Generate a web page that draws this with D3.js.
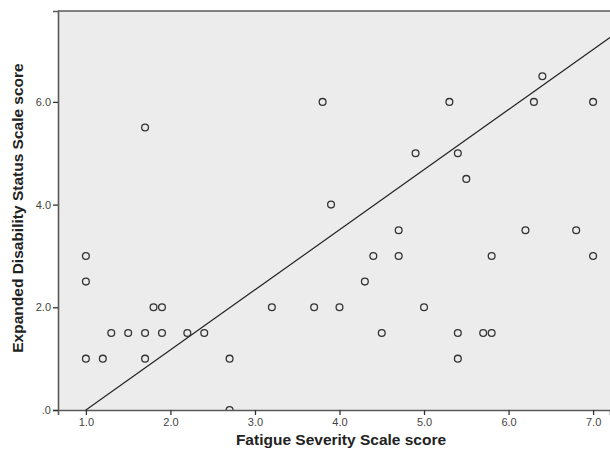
<!DOCTYPE html>
<html>
<head>
<meta charset="utf-8">
<script src="https://cdn.jsdelivr.net/npm/d3@7"></script>
<style>
  body { margin: 0; background: #fff; }
  svg { display: block; }
</style>
</head>
<body>
<div id="chart"></div>
<script>
// fatigue score (x) vs EDSS (y), one entry per patient
var fss = [1.0, 1.0, 1.0, 1.2, 1.3, 1.5, 1.7, 1.7, 1.7, 1.8, 1.9, 1.9, 2.2, 2.4, 2.7, 2.7,
           3.2, 3.7, 3.8, 3.9, 4.0, 4.3, 4.4, 4.5, 4.7, 4.7, 4.9, 5.0, 5.3, 5.4, 5.4, 5.4,
           5.5, 5.7, 5.8, 5.8, 6.2, 6.3, 6.4, 6.8, 7.0, 7.0];
var edss = [3.0, 2.5, 1.0, 1.0, 1.5, 1.5, 1.5, 1.0, 5.5, 2.0, 2.0, 1.5, 1.5, 1.5, 1.0, 0.0,
            2.0, 2.0, 6.0, 4.0, 2.0, 2.5, 3.0, 1.5, 3.5, 3.0, 5.0, 2.0, 6.0, 5.0, 1.5, 1.0,
            4.5, 1.5, 1.5, 3.0, 3.5, 6.0, 6.5, 3.5, 6.0, 3.0];

var xTicks = [1, 2, 3, 4, 5, 6, 7];
var yTicks = [0, 2, 4, 6];

// linear fit line
var fitIntercept = -1.17;
var fitSlope = 1.17;

var W = 610, H = 454;
var margin = {top: 11, right: 0, bottom: 44, left: 58};

var svg = d3.select("#chart").append("svg")
  .attr("width", W)
  .attr("height", H);

var x = d3.scaleLinear().domain([0.67, 7.2]).range([margin.left, W - margin.right]);
var y = d3.scaleLinear().domain([0, 7.77]).range([H - margin.bottom, margin.top]);

// plot background
svg.append("rect")
  .attr("x", margin.left)
  .attr("y", margin.top)
  .attr("width", W - margin.right - margin.left)
  .attr("height", H - margin.bottom - margin.top)
  .attr("fill", "#ececec");

svg.append("clipPath").attr("id", "plotclip")
  .append("rect")
  .attr("x", margin.left)
  .attr("y", margin.top)
  .attr("width", W - margin.right - margin.left)
  .attr("height", H - margin.bottom - margin.top);

var plot = svg.append("g").attr("clip-path", "url(#plotclip)");

// fit line across the whole x range
var xd = x.domain();
plot.append("line")
  .attr("x1", x(xd[0]))
  .attr("y1", y(fitIntercept + fitSlope * xd[0]))
  .attr("x2", x(xd[1]))
  .attr("y2", y(fitIntercept + fitSlope * xd[1]))
  .attr("stroke", "#222")
  .attr("stroke-width", 1.2);

plot.selectAll(".pt")
  .data(fss)
  .enter()
  .append("circle")
  .attr("class", "pt")
  .attr("cx", function(d) { return x(d); })
  .attr("cy", function(d, i) { return y(edss[i]); })
  .attr("r", 3.4)
  .attr("fill", "none")
  .attr("stroke", "#333")
  .attr("stroke-width", 1.3);

// axes
var fmt = function(d) { return d === 0 ? ".0" : d3.format(".1f")(d); };

var xAxis = svg.append("g")
  .attr("transform", "translate(0," + (H - margin.bottom) + ")")
  .call(d3.axisBottom(x).tickValues(xTicks).tickFormat(fmt).tickSize(5).tickPadding(3));

var yAxis = svg.append("g")
  .attr("transform", "translate(" + margin.left + ",0)")
  .call(d3.axisLeft(y).tickValues(yTicks).tickFormat(fmt).tickSize(5).tickPadding(2));

[xAxis, yAxis].forEach(function(a) {
  a.select(".domain").attr("stroke", "#5a5a5a").attr("stroke-width", 1.6);
  a.selectAll(".tick line").attr("stroke", "#333").attr("stroke-width", 1.3);
  a.selectAll(".tick text")
    .attr("fill", "#444")
    .style("font-family", "Liberation Sans, Arial, sans-serif")
    .style("font-size", "11px");
});

// top border
svg.append("line")
  .attr("x1", margin.left).attr("x2", W)
  .attr("y1", margin.top).attr("y2", margin.top)
  .attr("stroke", "#5a5a5a")
  .attr("stroke-width", 1.6);

// axis titles
svg.append("text")
  .attr("x", 341)
  .attr("y", 445)
  .attr("text-anchor", "middle")
  .style("font-family", "Liberation Sans, Arial, sans-serif")
  .style("font-size", "15.5px")
  .style("font-weight", "bold")
  .attr("fill", "#222")
  .text("Fatigue Severity Scale score");

svg.append("text")
  .attr("transform", "translate(23,208) rotate(-90)")
  .attr("text-anchor", "middle")
  .style("font-family", "Liberation Sans, Arial, sans-serif")
  .style("font-size", "15.5px")
  .style("font-weight", "bold")
  .attr("fill", "#222")
  .text("Expanded Disability Status Scale score");
</script>
</body>
</html>
